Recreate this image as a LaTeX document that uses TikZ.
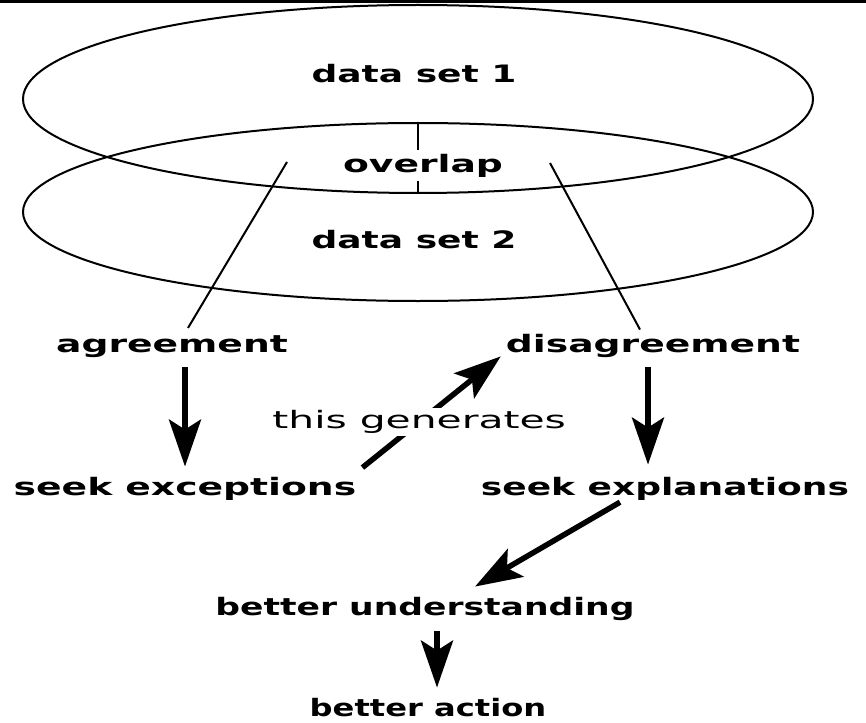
\documentclass[tikz,border=0pt]{standalone}
\usepackage{fontspec}
\newfontfamily\lblfont{DejaVu Sans}[FakeStretch=1.5]
\newfontfamily\lblwide{DejaVu Sans}[FakeStretch=1.57]
\newfontfamily\lblmid{DejaVu Sans}[FakeStretch=1.44]
\newfontfamily\lblnarrow{DejaVu Sans}[FakeStretch=1.34]
\newfontfamily\genfont{DejaVu Sans}[FakeStretch=1.7]
\usetikzlibrary{arrows.meta,calc}
\tikzset{
  lbl/.style={font=\lblfont\bfseries\fontsize{24}{28}\selectfont, inner sep=0pt, anchor=base},
  lblw/.style={lbl, font=\lblwide\bfseries\fontsize{24}{28}\selectfont},
  lblm/.style={lbl, font=\lblmid\bfseries\fontsize{24}{28}\selectfont},
  lbln/.style={lbl, font=\lblnarrow\bfseries\fontsize{24}{28}\selectfont},
  gentext/.style={font=\genfont\fontsize{24}{28}\selectfont, inner sep=2pt, fill=white},
  arr/.style={line width=5.5pt, -{Stealth[length=47pt,width=32pt,inset=10pt]}},
  ln/.style={line width=2pt},
}
\begin{document}
\begin{tikzpicture}[x=1pt,y=-1pt]
\useasboundingbox (0,0) rectangle (866,722);
\fill[white] (0,0) rectangle (866,722);
\fill[black] (0,0) rectangle (866,3);
% data sets
\draw[ln] (418,99) ellipse [x radius=395pt, y radius=94pt];
\draw[ln] (418,212) ellipse [x radius=395pt, y radius=89pt];
\coordinate (ot) at (418,123);
\coordinate (ob) at (418,193);
\draw[ln] (ot) -- (ob);
\node[lbl] (d1) at (414,83) {data set 1};
\node[lblw, fill=white, inner sep=4pt] (ov) at (423,172) {overlap};
\node[lbl] (d2) at (414,248) {data set 2};
% outcomes
\node[lblw] (ag) at (172,352) {agreement};
\node[lblw] (dis) at (653,352) {disagreement};
\node[lblw] (se) at (185,495) {seek exceptions};
\node[lbl] (sx) at (665,495) {seek explanations};
\node[lblm] (bu) at (425,615) {better understanding};
\node[lbln] (ba) at (428,716) {better action};
% lines from overlap
\coordinate (lt) at (287,162);
\coordinate (rt) at (550,163);
\draw[ln] (lt) -- ($(ag.north)+(16,-7)$);
\draw[ln] (rt) -- ($(dis.north)+(-13,-4)$);
% arrows
\draw[arr] ($(ag.south -| se.north)+(0,10)$) -- ($(se.north)+(0,-10)$);
\draw[arr] ($(dis.south)+(-5,10)$) -- ($(dis.south |- sx.north)+(-5,-12)$);
\draw[arr] ($(sx.south)+(-45,2)$) -- ($(bu.north)+(50,-10)$);
\draw[arr] ($(bu.south)+(12,11)$) -- ($(ba.north)+(9,-10)$);
\draw[arr] ($(se.north east)+(6,-9)$) -- node[gentext, pos=0.41] (gen) {this generates} ($(dis.south west)+(-5,-1)$);
\end{tikzpicture}
\end{document}
